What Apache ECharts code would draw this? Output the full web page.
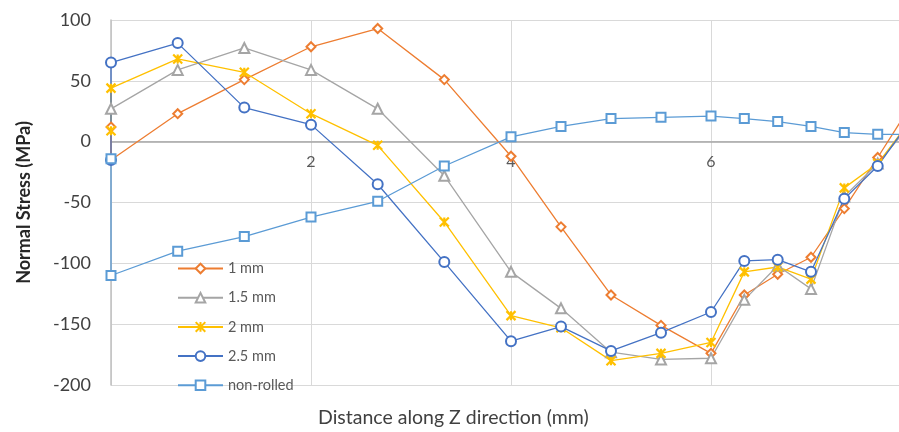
<!DOCTYPE html>
<html>
<head>
<meta charset="utf-8">
<script src="https://cdn.jsdelivr.net/npm/echarts@6/dist/echarts.min.js"></script>
<style>
html,body{margin:0;padding:0;background:#fff;}
#chart{width:899px;height:432px;}
</style>
</head>
<body>
<div id="chart"></div>
<script>
// Distance along Z (mm); two readings at the surface (x = 0)
const xValues = [0, 0, 0.667, 1.333, 2, 2.667, 3.333, 4, 4.5, 5, 5.5, 6, 6.333, 6.667, 7, 7.333, 7.667, 8];
const seriesNames = ['1 mm', '1.5 mm', '2 mm', '2.5 mm', 'non-rolled'];
const stress1mm   = [12, -15, 23, 51, 78, 93, 51, -12, -70, -126, -151, -174, -126, -109, -95, -55, -13, 30];
const stress15mm  = [null, 27, 59, 77, 59, 27, -28, -107, -137, -173, -179, -178, -130, -102, -121, -45, -18, 15];
const stress2mm   = [9, 44, 68, 57, 23, -3, -66, -143, -153, -180, -174, -165, -107, -103, -113, -38, -18, 18];
const stress25mm  = [-15, 65, 81, 28, 14, -35, -99, -164, -152, -172, -157, -140, -98, -97, -107, -47, -20, 18];
const stressNonRolled = [-14, -110, -90, -78, -62, -49, -20, 4, 12.5, 19, 20, 21, 19, 16.5, 12.5, 7.5, 6, 6];
const yTicks = [-200, -150, -100, -50, 0, 50, 100];
const xTicks = [2, 4, 6];

const colors = ['#ED7D31', '#A5A5A5', '#FFC000', '#4472C4', '#5B9BD5'];
const starPath = 'path://M0,0L10,10M10,0L0,10M5,0L5,10';
const symbols = ['emptyDiamond', 'emptyTriangle', starPath, 'emptyCircle', 'emptyRect'];
const sizes = [9, 10, 9, 10, 9];
const allValues = [stress1mm, stress15mm, stress2mm, stress25mm, stressNonRolled];

function pairs(vals) {
  return vals.map((v, i) => [xValues[i], v]);
}

const series = seriesNames.map((name, i) => ({
  name: name,
  type: 'line',
  data: pairs(allValues[i]),
  symbol: symbols[i],
  symbolSize: sizes[i],
  showAllSymbol: true,
  connectNulls: false,
  lineStyle: { color: colors[i], width: 1.3 },
  itemStyle: i === 2
    ? { color: colors[i], borderColor: colors[i], borderWidth: 2.2 }
    : { color: colors[i], borderColor: colors[i], borderWidth: 2 },
  emphasis: { disabled: true },
  animation: false
}));

// plot area: y from 100 (top) to -200 (bottom); the zero line sits 244 px above the bottom edge
const gridTop = 20, gridBottom = 47, plotHeight = 432 - gridTop - gridBottom;
const zeroOffset = -plotHeight * (0 - yTicks[0]) / (yTicks[yTicks.length - 1] - yTicks[0]);

const chart = echarts.init(document.getElementById('chart'), null, { renderer: 'canvas' });
chart.setOption({
  animation: false,
  backgroundColor: '#ffffff',
  textStyle: { fontFamily: 'Lato, "Open Sans", sans-serif' },
  title: {
    text: 'Distance along Z direction (mm)',
    left: 318,
    top: 408,
    padding: 0,
    textStyle: { fontSize: 19.5, fontWeight: 'normal', color: '#404040', fontFamily: 'Lato, sans-serif' }
  },
  grid: { left: 111, right: 0, top: gridTop, bottom: gridBottom, containLabel: false },
  legend: {
    orient: 'vertical',
    left: 177,
    top: 261,
    itemWidth: 45,
    itemHeight: 12,
    itemGap: 14.2,
    padding: 0,
    textStyle: { fontSize: 14.5, color: '#595959', fontFamily: 'Lato, sans-serif' },
    data: seriesNames
  },
  xAxis: {
    type: 'value',
    position: 'bottom',
    offset: zeroOffset,
    min: 0,
    max: 7.88,
    interval: 2,
    axisLine: { show: true, onZero: false, lineStyle: { color: '#A6A6A6', width: 1.5 } },
    axisTick: { show: false },
    axisLabel: {
      show: true,
      margin: 12,
      fontSize: 16,
      color: '#595959',
      showMinLabel: false,
      showMaxLabel: false,
      formatter: v => (xTicks.indexOf(Math.round(v)) >= 0 && Math.abs(v - Math.round(v)) < 1e-6) ? String(Math.round(v)) : ''
    },
    splitLine: { show: true, lineStyle: { color: '#D9D9D9', width: 1 } }
  },
  yAxis: {
    type: 'value',
    min: yTicks[0],
    max: yTicks[yTicks.length - 1],
    interval: 50,
    name: 'Normal Stress (MPa)',
    nameLocation: 'middle',
    nameRotate: 90,
    nameGap: 78,
    nameTextStyle: { fontSize: 18, fontWeight: 'bold', color: '#262626', fontFamily: 'Lato, sans-serif' },
    axisLine: { show: true, onZero: false, lineStyle: { color: '#BFBFBF', width: 1.5 } },
    axisTick: { show: false },
    axisLabel: { margin: 20, fontSize: 18, color: '#404040' },
    splitLine: { show: true, lineStyle: { color: '#D9D9D9', width: 1 } }
  },
  series: series
});
</script>
</body>
</html>
